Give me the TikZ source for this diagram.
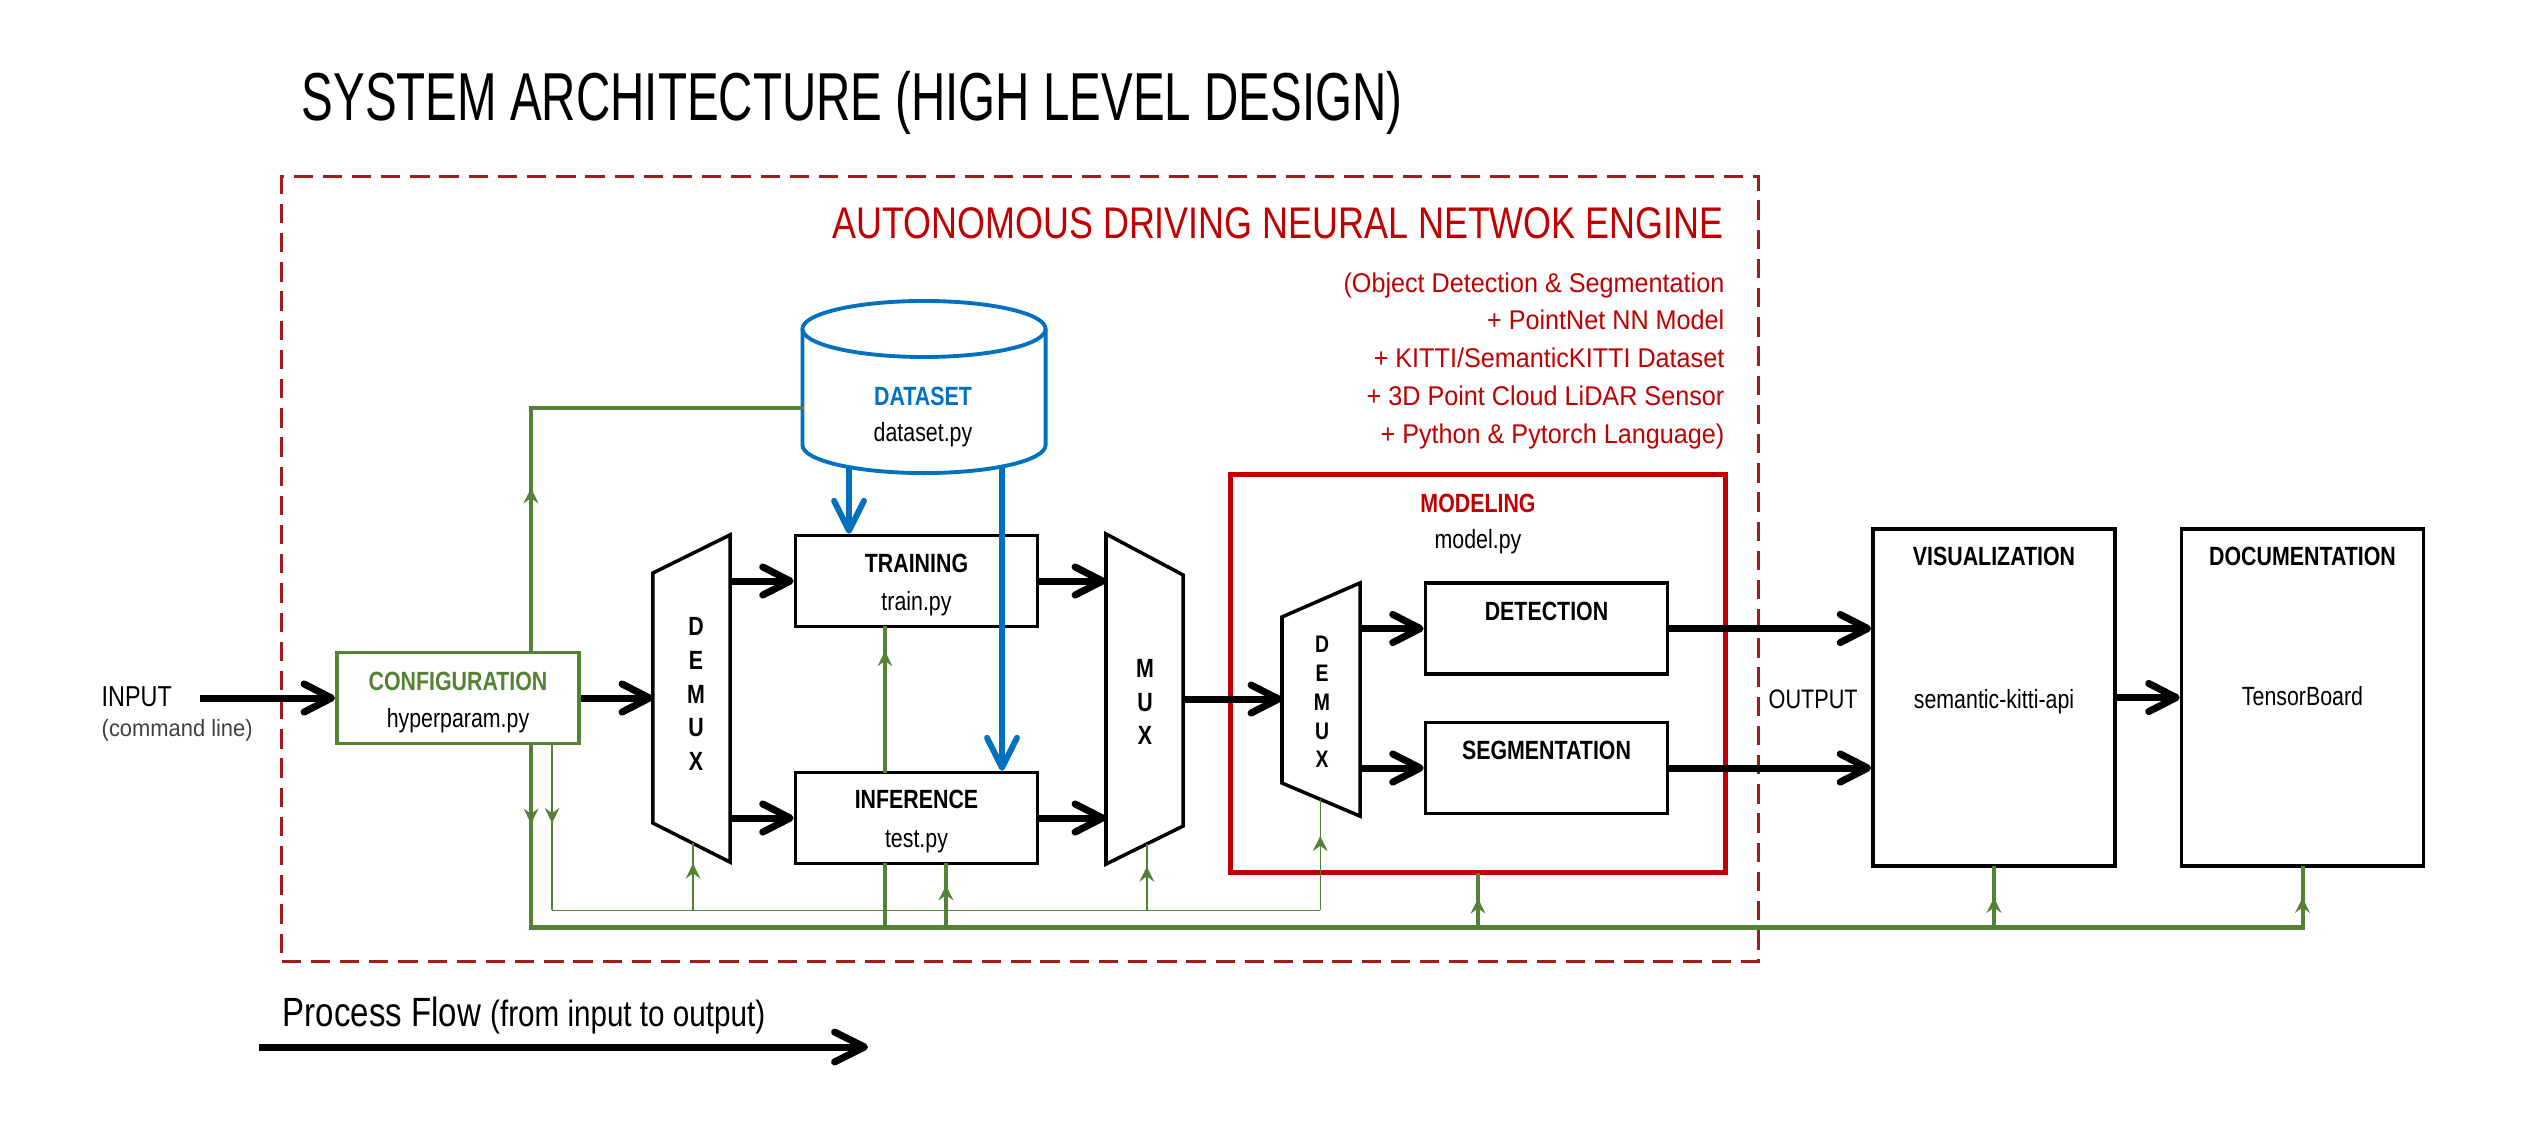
\documentclass[tikz,border=0pt]{standalone}
\usepackage{fontspec}
\setmainfont{Liberation Sans}[FakeStretch=0.81]
\newfontfamily\titlefont{Liberation Sans}[FakeStretch=0.70]
\newfontfamily\widefont{Liberation Sans}[FakeStretch=0.93]
\usetikzlibrary{positioning, arrows.meta, calc, decorations.markings}

\definecolor{engred}{RGB}{192,0,0}
\definecolor{dashred}{RGB}{162,28,28}
\definecolor{cfggreen}{RGB}{84,130,53}
\definecolor{dsblue}{RGB}{0,112,192}

\tikzset{
  blk/.style={draw, line width=1pt, inner sep=0pt, minimum width=2.42cm, minimum height=0.91cm},
  tallblk/.style={blk, minimum height=3.37cm},
  anchorbox/.style={inner sep=0pt, outer sep=0pt},
  head/.style={font=\fontsize{7.5}{9}\selectfont\bfseries, anchor=base, inner sep=0pt},
  fname/.style={font=\fontsize{7.5}{9}\selectfont, anchor=base, inner sep=0pt},
  muxlbl/.style={font=\fontsize{7.5}{9.55}\selectfont\bfseries, align=center, inner sep=0pt},
  flow/.style={line width=2pt, -{Straight Barb[length=7.8pt, width=8pt, round]}},
  dsflow/.style={dsblue, line width=1.7pt, -{Straight Barb[length=8.5pt, width=8.5pt, round]}},
  gthick/.style={cfggreen, line width=1.15pt, line cap=rect},
  gthin/.style={cfggreen, line width=0.4pt},
  midarrow/.style={postaction={decorate}, decoration={markings, mark=at position #1 with {\arrow{Stealth[length=4.3pt, width=4.2pt, inset=1.5pt]}}}},
}

\begin{document}
\begin{tikzpicture}[x=0.01cm, y=-0.01cm]
\useasboundingbox (0,0) rectangle (2533,1135);

% title
\node[anchor=base west, inner sep=0pt, font=\titlefont\fontsize{19.3}{23}\selectfont] (title) at (301,120) {SYSTEM ARCHITECTURE (HIGH LEVEL DESIGN)};

% engine frame
\node[draw=dashred, line width=0.85pt, dash pattern=on 5.5pt off 2.8pt, minimum width=14.76cm, minimum height=7.84cm, inner sep=0pt] (engine) at (1020,569) {};
\node[anchor=base east, inner sep=0pt, text=engred, font=\fontsize{12.6}{15}\selectfont] (engtitle) at (1724,238) {AUTONOMOUS DRIVING NEURAL NETWOK ENGINE};
\foreach \txt [count=\i from 0] in {{(Object Detection \& Segmentation}, {+ PointNet NN Model}, {+ KITTI/SemanticKITTI Dataset}, {+ 3D Point Cloud LiDAR Sensor}, {+ Python \& Pytorch Language)}}
  \node[anchor=base east, inner sep=0pt, text=engred, font=\widefont\fontsize{7.7}{9}\selectfont] (spec\i) at (1725,292+37.8*\i) {\txt};

% dataset
\node[anchorbox, minimum width=2.43cm, minimum height=1.16cm] (ds) at (924,387) {};
\draw[dsblue, line width=1.1pt] (ds.north west) -- (ds.south west) arc[start angle=180, end angle=360, x radius=1.215cm, y radius=0.28cm] -- (ds.north east);
\draw[dsblue, line width=1.1pt] (ds.north) ellipse [x radius=1.215cm, y radius=0.28cm];
\node[head, text=dsblue] (dshead) at (923,405) {DATASET};
\node[fname] (dsfile) at (923,441) {dataset.py};

% configuration
\node[blk, draw=cfggreen, line width=1.1pt] (cfg) at (458,698) {};
\node[head, text=cfggreen] (cfghead) at (458,690) {CONFIGURATION};
\node[fname] (cfgfile) at (458,727) {hyperparam.py};
\node[anchor=base west, inner sep=0pt, font=\fontsize{8.2}{10}\selectfont] (inlbl) at (101,706) {INPUT};
\node[anchor=base west, inner sep=0pt, text=black!75, font=\widefont\fontsize{6.7}{8}\selectfont] (insub) at (101,736) {(command line)};
\coordinate (insrc) at (200,698);

% demux
\node[anchorbox, minimum width=0.77cm, minimum height=3.27cm] (dmx) at (691.5,698.5) {};
\draw[line width=1pt] (dmx.north east) -- (dmx.south east) -- ([yshift=0.39cm]dmx.south west) coordinate (dmxsw) -- ([yshift=-0.38cm]dmx.north west) -- cycle;
\node[muxlbl] (dmxtxt) at (696,694) {D\\E\\M\\U\\X};

% training / inference
\node[blk] (tr) at (916.5,581) {};
\node[head] (trhead) at (916.5,572) {TRAINING};
\node[fname] (trfile) at (916.5,610) {train.py};
\node[blk] (inf) at (916.5,818) {};
\node[head] (infhead) at (916.5,808) {INFERENCE};
\node[fname] (inffile) at (916.5,847) {test.py};

% mux
\node[anchorbox, minimum width=0.77cm, minimum height=3.30cm] (mux) at (1144.5,699) {};
\draw[line width=1pt] (mux.north west) -- (mux.south west) -- ([yshift=0.38cm]mux.south east) coordinate (muxse) -- ([yshift=-0.41cm]mux.north east) -- cycle;
\node[muxlbl] (muxtxt) at (1145,702) {M\\U\\X};

% modeling
\node[draw=engred, line width=1.4pt, minimum width=4.94cm, minimum height=3.97cm, inner sep=0pt] (mdl) at (1478,673.5) {};
\node[head, text=engred] (mdlhead) at (1478,512) {MODELING};
\node[fname] (mdlfile) at (1478,548) {model.py};
\node[anchorbox, minimum width=0.78cm, minimum height=2.33cm] (mdx) at (1321,699.5) {};
\draw[line width=1pt] (mdx.north east) -- (mdx.south east) -- ([yshift=0.33cm]mdx.south west) coordinate (mdxsw) -- ([yshift=-0.34cm]mdx.north west) -- cycle;
\node[muxlbl, font=\fontsize{6.8}{8.2}\selectfont\bfseries] (mdxtxt) at (1322,702) {D\\E\\M\\U\\X};
\node[blk] (det) at (1546.5,628.5) {};
\node[head] (dethead) at (1546.5,620) {DETECTION};
\node[blk] (seg) at (1546.5,768) {};
\node[head] (seghead) at (1546.5,759) {SEGMENTATION};

% visualization / documentation
\node[tallblk] (vis) at (1994,697.5) {};
\node[head] (vishead) at (1994,565) {VISUALIZATION};
\node[fname] (visfile) at (1994,708) {semantic-kitti-api};
\node[tallblk] (doc) at (2302.5,697.5) {};
\node[head] (dochead) at (2302.5,565) {DOCUMENTATION};
\node[fname] (docfile) at (2302.5,705) {TensorBoard};
\node[anchor=base west, inner sep=0pt, font=\fontsize{7.6}{9}\selectfont] (outlbl) at (1768,708) {OUTPUT};

% main data flow
\draw[flow] (insrc) -- (cfg.west);
\draw[flow] (cfg.east) -- (cfg.east -| dmx.west);
\draw[flow] (dmx.east |- tr.west) -- (tr.west);
\draw[flow] (dmx.east |- inf.west) -- (inf.west);
\draw[flow] (tr.east) -- (tr.east -| mux.west);
\draw[flow] (inf.east) -- (inf.east -| mux.west);
\draw[flow] (mux.east) -- (mux.east -| mdx.west);
\draw[flow] (mdx.east |- det.west) -- (det.west);
\draw[flow] (mdx.east |- seg.west) -- (seg.west);
\draw[flow] (det.east) -- (det.east -| vis.west);
\draw[flow] (seg.east) -- (seg.east -| vis.west);
\draw[flow] (vis.east) -- (doc.west);

% dataset feeds
\coordinate (dsL) at (849,467);
\coordinate (dsR) at (1002,466);
\draw[dsflow] (dsL) -- (tr.north -| dsL);
\draw[dsflow] (dsR) -- (inf.north -| dsR);

% configuration bus (thick)
\draw[gthick, midarrow=0.316] ([xshift=0.73cm]cfg.north) |- ([yshift=-0.21cm]ds.west);
\draw[gthick, midarrow=0.43] ([xshift=0.73cm]cfg.south) -- ++(0,182) coordinate (busL);
\draw[gthick] (busL) -- (busL -| doc.south);
\coordinate (trgap) at ([xshift=-0.315cm]inf.south);
\draw[gthick] (busL -| trgap) -- (trgap);
\draw[gthick, midarrow=0.84] ([xshift=-0.315cm]inf.north) -- ([xshift=-0.315cm]tr.south);
\coordinate (infgap) at ([xshift=0.295cm]inf.south);
\draw[gthick, midarrow=0.68] (busL -| infgap) -- (infgap);
\draw[gthick, midarrow=0.55] (busL -| mdl.south) -- (mdl.south);
\draw[gthick, midarrow=0.5] (busL -| vis.south) -- (vis.south);
\draw[gthick, midarrow=0.5] (busL -| doc.south) -- (doc.south);

% configuration bus (thin)
\draw[gthin, midarrow=0.47] ([xshift=0.94cm]cfg.south) -- ++(0,165) coordinate (thinL);
\coordinate (dmxb) at ($(dmxsw)!0.52!(dmx.south east)$);
\coordinate (muxb) at ($(mux.south west)!0.53!(muxse)$);
\coordinate (mdxb) at ($(mdxsw)!0.49!(mdx.south east)$);
\draw[gthin] (thinL) -- (thinL -| mdxb);
\draw[gthin, midarrow=0.7] (thinL -| dmxb) -- (dmxb);
\draw[gthin, midarrow=0.66] (thinL -| muxb) -- (muxb);
\draw[gthin, midarrow=0.67] (thinL -| mdxb) -- (mdxb);

% process flow legend
\node[anchor=base west, inner sep=0pt, font=\fontsize{11.6}{14}\selectfont] (pflow) at (282,1026) {Process Flow {\fontsize{10.4}{12}\selectfont(from input to output)}};
\coordinate (pfs) at (259,1047);
\coordinate (pfe) at (868,1047);
\draw[flow, -{Straight Barb[length=8.5pt, width=8.5pt, round]}] (pfs) -- (pfe);
\end{tikzpicture}
\end{document}
